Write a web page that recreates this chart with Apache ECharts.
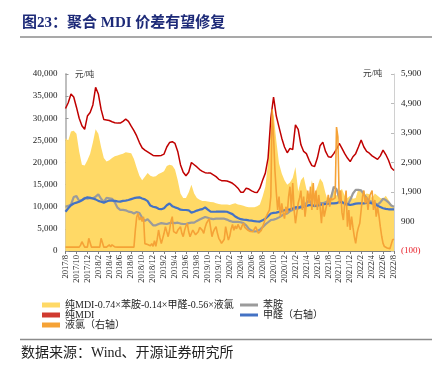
<!DOCTYPE html>
<html><head><meta charset="utf-8">
<script src="https://cdn.jsdelivr.net/npm/echarts@6/dist/echarts.min.js"></script>
<style>html,body{margin:0;padding:0;background:#fff}#c{width:441px;height:369px}</style>
</head><body><div id="c"></div>
<script>
// half-month samples from 2017/8 to 2022/8 (121 points)
const spread = [25500,25000,27000,27200,26500,22500,19500,19300,20500,22000,
24500,27500,26500,23500,21000,20200,20500,21000,21400,21600,
21800,22000,22300,22200,22100,20800,18800,17000,16000,16800,
17600,17000,16800,16900,17400,17700,18000,19200,19500,19300,
18400,16000,13000,12000,12000,13200,15000,13000,12000,11600,
11300,11300,11200,11100,11000,10800,10600,10500,10500,10500,
10400,10600,10800,10500,10400,10200,10000,9900,9900,9900,
10100,10500,12300,14500,20000,28000,31000,25000,19800,17500,
16000,15000,15500,16500,19000,13500,16000,16800,14000,12500,
16000,13000,14500,16400,15500,13000,11000,13000,14000,12500,
13500,14000,12500,12000,12500,11800,12000,14000,13500,12500,
13000,12800,12000,13000,12500,12000,11800,12500,11500,10500,10000];
const pureMDI = [32200,33500,35500,34800,32500,30000,28300,27500,30500,31300,
33000,37000,35500,32000,29700,29600,29500,29200,29000,28900,
28900,29300,29800,29300,28200,27200,26000,24500,23300,22800,
22400,22000,21600,21500,21500,21600,21900,23500,24500,24700,
24300,22500,19500,17800,17000,17800,20000,19500,19000,18400,
18000,17700,17600,17600,17200,16800,16200,15900,15900,15800,
15600,15300,14800,14200,13300,13300,14200,14000,13600,13300,
13200,14200,16000,17600,21000,30000,34800,30500,28000,25500,
23500,22200,23200,22900,28500,27500,24000,22500,22000,20500,
19300,19100,21000,23800,24600,22500,21300,21200,22000,23000,
24300,23200,22000,21000,20200,21300,22000,23500,25100,23500,
22500,22100,21500,21100,20700,21500,22800,21800,20500,18800,18200];
const aniline = [10000,10200,10500,12200,12400,11300,11500,12000,11800,12000,
11900,12300,12800,11800,11100,12000,11900,11800,11000,9800,
9300,9300,9200,8900,8800,8500,8800,8600,7500,6800,
7200,6500,5800,5800,6100,6300,6200,6100,6300,6400,
6300,6400,6200,6100,6100,6300,6400,6400,6800,7100,
7400,7700,7500,7300,7200,7300,7300,7300,7300,7100,
6800,6600,6600,6600,6500,6300,5800,5000,4600,4400,
4500,4800,5400,6000,6500,7000,7100,7300,7600,8000,
8300,8500,9000,9300,9500,9600,10100,10500,10800,11500,
10500,10100,10400,10800,10800,11000,11300,12000,14500,14000,
12000,11000,10600,10400,11500,13000,13800,13800,13700,12800,
12000,11300,11100,10800,10500,11000,11800,11500,11000,10300,10000];
const formaldehyde = [1230,1350,1450,1510,1540,1570,1620,1680,1720,1700,
1680,1650,1600,1570,1540,1580,1610,1605,1600,1580,
1575,1600,1610,1630,1660,1690,1710,1720,1680,1650,
1590,1440,1400,1380,1330,1315,1350,1450,1510,1420,
1380,1350,1300,1290,1290,1280,1200,1230,1270,1300,
1320,1380,1300,1235,1230,1232,1235,1232,1232,1230,
1190,1150,1070,1020,980,965,955,940,930,910,
900,896,940,1000,1080,1170,1190,1200,1225,1250,
1280,1300,1310,1340,1380,1385,1380,1400,1425,1455,
1450,1425,1440,1460,1480,1494,1505,1517,1515,1520,
1565,1555,1517,1490,1460,1480,1505,1517,1515,1517,
1530,1540,1510,1494,1430,1390,1350,1330,1314,1314,1314];
// quarter-month samples (241 points)
const chlorine = [30,30,30,30,30,30,30,30,30,30,
30,100,215,215,30,30,30,330,330,30,
30,30,30,30,30,30,330,330,30,30,
30,30,110,40,110,110,40,30,30,30,
30,30,30,30,30,30,30,30,30,30,
30,600,1050,1180,950,1050,900,1060,150,100,
120,60,80,150,60,250,60,300,612,350,
150,160,500,725,550,385,600,900,1063,555,
520,500,600,650,725,500,385,600,750,840,
550,385,500,610,550,450,385,550,700,725,
600,500,700,840,900,1000,1063,385,550,650,
725,500,330,250,160,160,300,725,500,273,
400,650,800,600,750,650,800,700,620,760,
840,700,650,612,580,560,600,555,650,725,
600,500,440,600,725,850,1010,1100,1200,1290,
1742,4700,3800,2646,1900,1290,1742,1063,1517,1200,
1000,1400,1180,1742,2080,1290,2200,1300,840,1180,
1517,1700,1950,1290,1742,1063,1500,1950,1517,2080,
1290,2200,1400,1950,1290,1800,1400,840,1517,1063,
1290,1500,1800,1400,1700,1630,1650,1700,4100,3770,
1517,1950,1200,950,1517,1950,725,1290,612,1063,
700,388,160,500,700,840,1290,1740,1950,1517,
1740,1290,1740,1850,1950,1290,1630,1063,1400,1100,
725,400,160,50,20,0,-20,-20,-20,280,300];
const startYear = 2017, startMonth = 8, spanMonths = 60;
const names = ['纯MDI-0.74×苯胺-0.14×甲醛-0.56×液氯','苯胺','纯MDI','甲醛（右轴）','液氯（右轴）'];

function toXY(arr){ const st = spanMonths/(arr.length-1); return arr.map((v,k)=>[k*st, v]); }
function monthLabel(m){ const t = startMonth-1+Math.round(m); return (startYear+Math.floor(t/12))+'/'+(t%12+1); }

const SERIF = '"Liberation Serif","Noto Sans CJK SC",serif';
const chart = echarts.init(document.getElementById('c'));
chart.setOption({
  animation:false,
  backgroundColor:'#fff',
  grid:{left:65.5,right:47,top:74,bottom:118},
  xAxis:{type:'value',min:0,max:spanMonths,interval:2,
    axisLine:{lineStyle:{color:'#7f7f7f',width:1}},
    axisTick:{show:true,inside:false,length:3,lineStyle:{color:'#7f7f7f'}},
    splitLine:{show:false},
    axisLabel:{rotate:90,fontSize:8.5,fontFamily:SERIF,color:'#222',margin:4,formatter:v=>monthLabel(v)}},
  yAxis:[
    {type:'value',min:0,max:40000,interval:5000,
     axisLine:{show:true,lineStyle:{color:'#bfbfbf',width:2}},
     axisTick:{show:true,inside:true,length:3,lineStyle:{color:'#999'}},
     splitLine:{show:false},
     axisLabel:{fontSize:9,fontFamily:SERIF,color:'#222',margin:8,formatter:v=>v.toLocaleString('en-US')}},
    {type:'value',min:-100,max:5900,interval:1000,position:'right',
     axisLine:{show:true,lineStyle:{color:'#d0d0d0',width:1}},
     axisTick:{show:true,inside:true,length:3,lineStyle:{color:'#bbb'}},
     splitLine:{show:false},
     axisLabel:{fontSize:9,fontFamily:SERIF,color:'#222',margin:7,
       formatter:v=>v<0?'{r|('+Math.abs(v).toLocaleString('en-US')+')}':v.toLocaleString('en-US'),
       rich:{r:{color:'#e8202a',fontSize:9,fontFamily:SERIF}}}}
  ],
  legend:[
    {data:[names[0],names[2],names[4]],orient:'vertical',left:37,top:295,itemWidth:18,itemHeight:5,itemGap:0,
     icon:'rect',textStyle:{fontSize:10,fontFamily:SERIF,color:'#222',lineHeight:10}},
    {data:[names[1],names[3]],orient:'vertical',left:235,top:295,itemWidth:18,itemHeight:3,itemGap:0,
     icon:'rect',textStyle:{fontSize:10,fontFamily:SERIF,color:'#222',lineHeight:10}}
  ],
  series:[
    {name:names[0],type:'line',yAxisIndex:0,data:toXY(spread),symbol:'none',
     lineStyle:{width:0,color:'#ffd966'},itemStyle:{color:'#ffd966'},areaStyle:{color:'#ffd966',opacity:1}},
    {name:names[1],type:'line',yAxisIndex:0,data:toXY(aniline),symbol:'none',
     lineStyle:{width:2.2,color:'#9b9b9b'},itemStyle:{color:'#9b9b9b'}},
    {name:names[2],type:'line',yAxisIndex:0,data:toXY(pureMDI),symbol:'none',
     lineStyle:{width:1.5,color:'#c00000'},itemStyle:{color:'#d03a2f'}},
    {name:names[3],type:'line',yAxisIndex:1,data:toXY(formaldehyde),symbol:'none',
     lineStyle:{width:2.2,color:'#4472c4'},itemStyle:{color:'#4472c4'}},
    {name:names[4],type:'line',yAxisIndex:1,data:toXY(chlorine),symbol:'none',
     lineStyle:{width:1.6,color:'#f5a236'},itemStyle:{color:'#f5a236'}}
  ],
  graphic:[
    {type:'text',left:22,top:16,style:{text:'图23：聚合 MDI 价差有望修复',font:'bold 15px "Liberation Serif","Noto Sans CJK SC",serif',fill:'#1d2a78'}},
    {type:'line',shape:{x1:20,y1:37,x2:432,y2:37},style:{stroke:'#8c8c8c',lineWidth:1.5}},
    {type:'line',shape:{x1:20,y1:339.5,x2:432,y2:339.5},style:{stroke:'#8c8c8c',lineWidth:1.5}},
    {type:'text',left:21,top:346,style:{text:'数据来源：Wind、开源证券研究所',font:'14px "Liberation Serif","Noto Sans CJK SC",serif',fill:'#222'}},
    {type:'text',left:75,top:71,style:{text:'元/吨',font:'8.5px "Liberation Serif","Noto Sans CJK SC",serif',fill:'#333'}},
    {type:'text',left:363,top:70,style:{text:'元/吨',font:'8.5px "Liberation Serif","Noto Sans CJK SC",serif',fill:'#333'}}
  ]
});
</script></body></html>
